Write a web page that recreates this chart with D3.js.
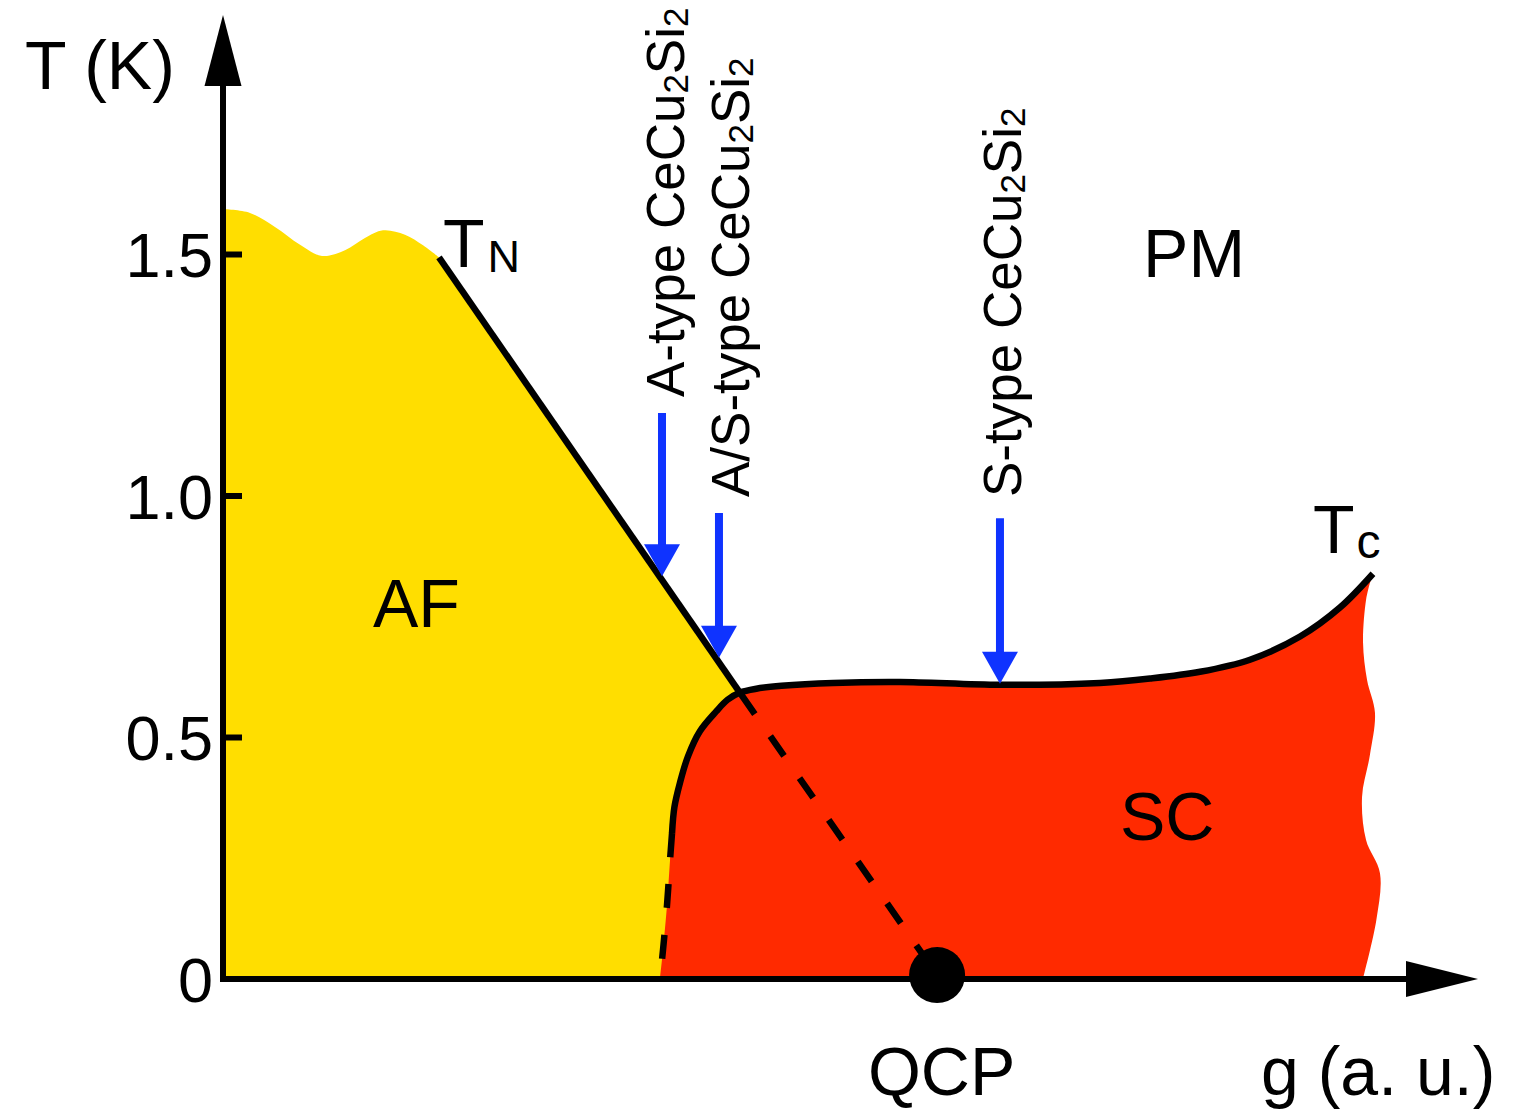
<!DOCTYPE html>
<html><head><meta charset="utf-8">
<script src="https://cdn.jsdelivr.net/npm/d3@7"></script>
<style>
body{margin:0;background:#fff;}
text{font-family:"Liberation Sans",Helvetica,Arial,sans-serif;fill:#000;}
</style>
</head><body>
<svg id="chart" width="1522" height="1111"></svg>
<script>
// ---------- data (g in a.u., T in K) ----------
const yTickValues = [0, 0.5, 1.0, 1.5];
const yTickLabels = ["0", "0.5", "1.0", "1.5"];

// wavy upper edge of the AF region (left of T_N line)
const afTop = [[0,1.593],[0.215,1.585],[0.414,1.556],[0.614,1.519],[0.789,1.496],[0.972,1.508],[1.131,1.533],[1.275,1.549],[1.45,1.54],[1.594,1.518],[1.721,1.493]];
// T_N line (start and end at QCP)
const tnStart = [1.721, 1.493];
const qcp = [5.69, 0.007];
const tnCross = [4.11, 0.595];   // where T_N meets T_c
// SC left boundary (dashed part, bottom to top)
const scLeftDashed = [[3.482,0],[3.506,0.059],[3.538,0.152],[3.562,0.245],[3.578,0.301]];
// T_c curve (solid), from left boundary to its end
const tcCurve = [[3.578,0.301],[3.597,0.355],[3.641,0.405],[3.705,0.46],[3.8,0.512],[3.93,0.553],[4.02,0.577],[4.12,0.592],[4.25,0.6],[4.45,0.606],[4.861,0.612],[5.394,0.614],[6.191,0.608],[6.988,0.612],[7.386,0.621],[7.785,0.635],[8.183,0.66],[8.582,0.708],[8.9,0.768],[9.163,0.838]];
// wavy right edge of SC region (top to bottom)
const scRight = [[9.14,0.82],[9.108,0.784],[9.084,0.695],[9.116,0.618],[9.179,0.55],[9.139,0.463],[9.076,0.376],[9.108,0.287],[9.219,0.218],[9.19,0.121],[9.084,0]];
// blue arrows: g, top T, tip T
const arrowG   = [3.498, 3.952, 6.191];
const arrowTop = [1.171, 0.964, 0.953];
const arrowTip = [0.833, 0.664, 0.610];
const arrowLabels = ["A-type CeCu", "A/S-type CeCu", "S-type CeCu"];

// ---------- scales ----------
const svg = d3.select("#chart");
const x = d3.scaleLinear().domain([0, 10]).range([223, 1478]);
const y = d3.scaleLinear().domain([0, 1.5]).range([978.5, 254]);

const YELLOW = "#FFDE00", RED = "#FF2A00", BLUE = "#0F33FF";

const lineC = d3.line().x(d => x(d[0])).y(d => y(d[1])).curve(d3.curveCatmullRom.alpha(0.5));
const lineL = d3.line().x(d => x(d[0])).y(d => y(d[1]));
const join = (...parts) => parts.map((p, i) => i ? p.replace(/^M/, "L") : p).join("");

// ---------- AF region ----------
svg.append("path")
  .attr("d", join(lineL([[0,0],afTop[0]]), lineC(afTop), lineL([tnStart, qcp, [qcp[0],0]])) + "Z")
  .attr("fill", YELLOW);

// ---------- SC region ----------
svg.append("path")
  .attr("d", join(lineC(scLeftDashed), lineC(tcCurve), lineC(scRight)) + "Z")
  .attr("fill", RED);

// ---------- boundaries ----------
svg.append("path").attr("d", lineL([tnStart, tnCross]))
  .attr("fill","none").attr("stroke","#000").attr("stroke-width",6.5);
svg.append("path").attr("d", lineL([tnCross, qcp]))
  .attr("fill","none").attr("stroke","#000").attr("stroke-width",6.5)
  .attr("stroke-dasharray","24,27").attr("stroke-dashoffset",-4);
svg.append("path").attr("d", lineC(tcCurve))
  .attr("fill","none").attr("stroke","#000").attr("stroke-width",6.5);
svg.append("path").attr("d", lineC(scLeftDashed.slice().reverse()))
  .attr("fill","none").attr("stroke","#000").attr("stroke-width",6.5)
  .attr("stroke-dasharray","24,27");

// ---------- blue arrows ----------
const headLen = 32, headHalf = 18;
arrowG.forEach((g, i) => {
  const cx = x(g), y0 = y(arrowTop[i]), y1 = y(arrowTip[i]);
  svg.append("line").attr("x1", cx).attr("x2", cx).attr("y1", y0).attr("y2", y1 - headLen + 2)
    .attr("stroke", BLUE).attr("stroke-width", 8);
  svg.append("path").attr("d", `M${cx-headHalf},${y1-headLen}L${cx+headHalf},${y1-headLen}L${cx},${y1}Z`)
    .attr("fill", BLUE);
});

// ---------- axes ----------
const x0 = x(0), yb = y(0);
// x axis
svg.append("line").attr("x1", x0-3).attr("x2", 1408).attr("y1", yb+0.5).attr("y2", yb+0.5)
  .attr("stroke","#000").attr("stroke-width",6);
svg.append("path").attr("d", `M1406,${yb-17.5}L${x(10)},${yb+0.5}L1406,${yb+18.5}Z`).attr("fill","#000");
// y axis
svg.append("line").attr("x1", x0).attr("x2", x0).attr("y1", yb+3.5).attr("y2", 84)
  .attr("stroke","#000").attr("stroke-width",6);
svg.append("path").attr("d", `M${x0-18.5},86L${x0},15L${x0+18.5},86Z`).attr("fill","#000");

const yAxis = d3.axisLeft(y).tickValues(yTickValues).tickFormat((d,i) => yTickLabels[i])
  .tickSizeInner(-19).tickSizeOuter(0).tickPadding(10);
const ga = svg.append("g").attr("transform", `translate(${x0},0)`).call(yAxis);
ga.select(".domain").remove();
ga.selectAll(".tick line").attr("stroke","#000").attr("stroke-width",6);
ga.selectAll(".tick text").attr("font-size",63).attr("dy","0.36em")
  .attr("font-family",'"Liberation Sans",Helvetica,Arial,sans-serif').attr("fill","#000");

// QCP dot
svg.append("circle").attr("cx", x(qcp[0])).attr("cy", y(qcp[1])).attr("r", 28).attr("fill","#000");

// ---------- labels ----------
svg.append("text").attr("x", 25).attr("y", 89).attr("font-size", 68).text("T (K)");
svg.append("text").attr("x", 1261).attr("y", 1095).attr("font-size", 68).text("g (a. u.)");
svg.append("text").attr("x", x(5.139)).attr("y", 1095).attr("font-size", 68).text("QCP");
svg.append("text").attr("x", x(1.195)).attr("y", y(0.728)).attr("font-size", 68).text("AF");
svg.append("text").attr("x", x(7.331)).attr("y", y(1.453)).attr("font-size", 68).text("PM");
svg.append("text").attr("x", x(7.147)).attr("y", y(0.287)).attr("font-size", 68).text("SC");

const tn = svg.append("text").attr("x", x(1.753)).attr("y", y(1.474)).attr("font-size", 68);
tn.append("tspan").text("T");
tn.append("tspan").attr("font-size", 45).attr("dx", 3).attr("dy", 5).text("N");
const tc = svg.append("text").attr("x", x(8.685)).attr("y", y(0.881)).attr("font-size", 68);
tc.append("tspan").text("T");
tc.append("tspan").attr("font-size", 48).attr("dx", 2).attr("dy", 5).text("c");

// rotated compound labels
const labelPos = [[684, 397], [749, 497], [1021, 497]];
arrowLabels.forEach((lab, i) => {
  const t = svg.append("text").attr("font-size", 53)
    .attr("transform", `translate(${labelPos[i][0]},${labelPos[i][1]}) rotate(-90)`);
  t.append("tspan").text(lab);
  t.append("tspan").attr("font-size", 35).attr("dy", 4).text("2");
  t.append("tspan").attr("dy", -4).text("Si");
  t.append("tspan").attr("font-size", 35).attr("dy", 4).text("2");
});
</script>
</body></html>
